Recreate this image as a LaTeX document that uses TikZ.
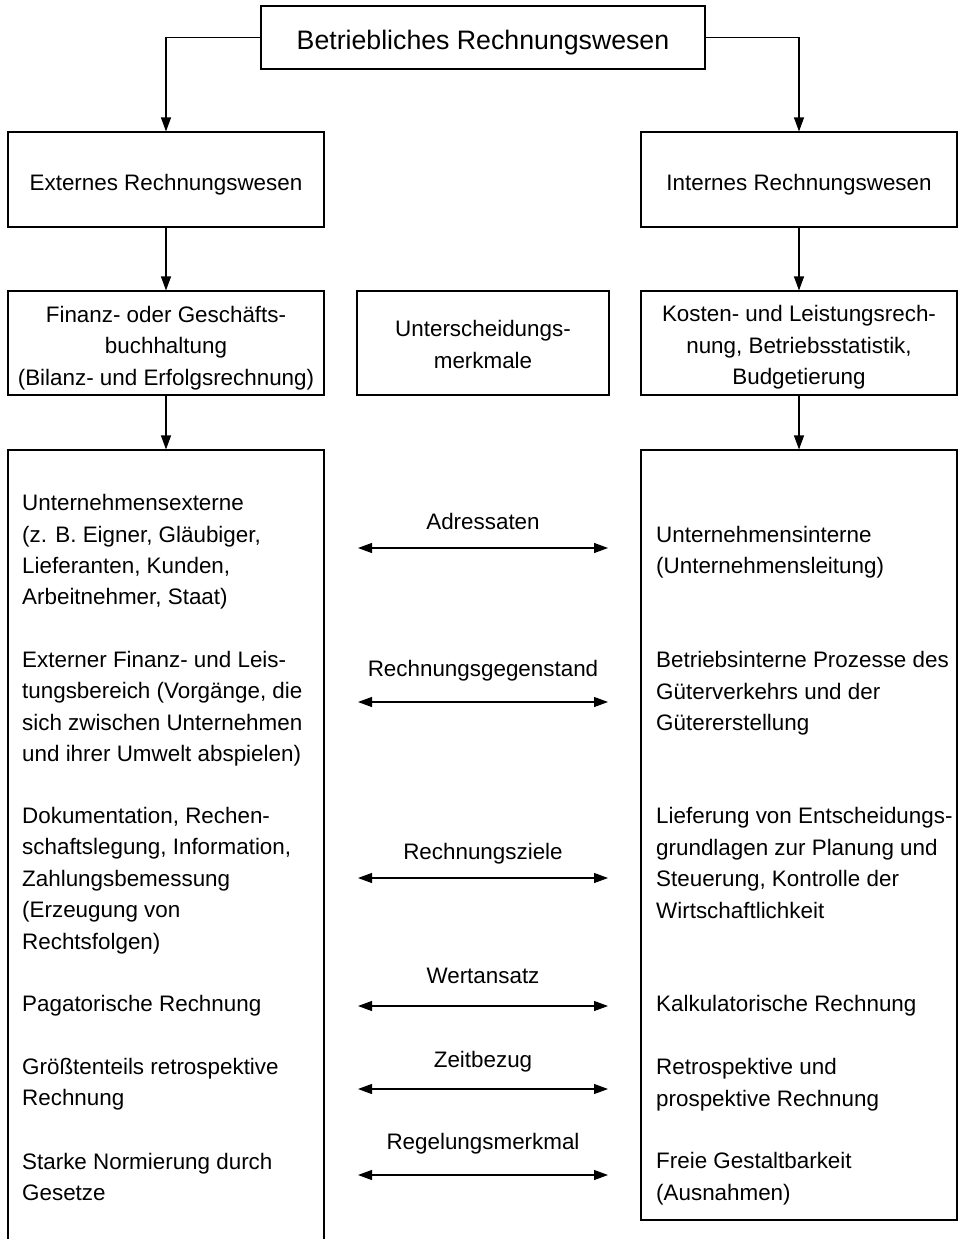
\documentclass[tikz,border=0pt]{standalone}
\usepackage{fontspec}
\setmainfont{Liberation Sans}
\usetikzlibrary{arrows.meta}
\begin{document}
\begin{tikzpicture}[x=1pt,y=-1pt,
  every node/.style={font=\fontsize{22.4}{31.4}\selectfont},
  box/.style={draw,line width=1.1pt,align=center,inner sep=0pt},
  txt/.style={align=left,anchor=west,inner sep=0pt},
  lbl/.style={inner sep=0pt,anchor=base},
  arr/.style={line width=1.1pt,-{Triangle[length=14pt,width=10pt]}},
  darr/.style={line width=1.1pt,{Triangle[length=14pt,width=10pt]}-{Triangle[length=14pt,width=10pt]}}]
\useasboundingbox (0,0) rectangle (959,1239);
\fill[white] (0,0) rectangle (959,1239);
\node[box,minimum width=444pt,minimum height=63pt,font=\fontsize{26.7}{31}\selectfont,text height=24pt,text depth=0pt] (top) at (483,37.5) {Betriebliches Rechnungswesen};
\node[box,minimum width=316pt,minimum height=95pt,text height=21.6pt,text depth=0pt] (ext) at (166,179.5) {Externes Rechnungswesen};
\node[box,minimum width=316pt,minimum height=95pt,text height=21.6pt,text depth=0pt] (int) at (799,179.5) {Internes Rechnungswesen};
\node[box,minimum width=316pt,minimum height=104pt,text height=84.4pt,text depth=0pt] (fin) at (166,343) {Finanz- oder Geschäfts-\\buchhaltung\\(Bilanz- und Erfolgsrechnung)};
\node[box,minimum width=252pt,minimum height=104pt,text height=50.7pt,text depth=0pt] (unt) at (483,343) {Unterscheidungs-\\merkmale};
\node[box,minimum width=316pt,minimum height=104pt,text height=83.4pt,text depth=0pt] (kos) at (799,343) {Kosten- und Leistungsrech-\\nung, Betriebsstatistik,\\Budgetierung};
\node[box,minimum width=316pt,minimum height=810pt] (lbox) at (166,855) {};
\node[box,minimum width=316pt,minimum height=770pt] (rbox) at (799,835) {};
\draw[arr] (top.west) -| (ext.north);
\draw[arr] (top.east) -| (int.north);
\draw[arr] (ext.south) -- (fin.north);
\draw[arr] (int.south) -- (kos.north);
\draw[arr] (fin.south) -- (lbox.north);
\draw[arr] (kos.south) -- (rbox.north);
% left texts
\node[txt] (l1) at (22,552) {Unternehmensexterne\\(z. B. Eigner, Gläubiger,\\Lieferanten, Kunden,\\Arbeitnehmer, Staat)};
\node[txt] (l2) at (22,708.5) {Externer Finanz- und Leis-\\tungsbereich (Vorgänge, die\\sich zwischen Unternehmen\\und ihrer Umwelt abspielen)};
\node[txt] (l3) at (22,880.5) {Dokumentation, Rechen-\\schaftslegung, Information,\\Zahlungsbemessung\\(Erzeugung von\\Rechtsfolgen)};
\node[txt] (l4) at (22,1005.5) {Pagatorische Rechnung};
\node[txt] (l5) at (22,1084) {Größtenteils retrospektive\\Rechnung};
\node[txt] (l6) at (22,1177) {Starke Normierung durch\\Gesetze};
% right texts
\node[txt] (r1) at (656,552.5) {Unternehmensinterne\\(Unternehmensleitung)};
\node[txt] (r2) at (656,693.5) {Betriebsinterne Prozesse des\\Güterverkehrs und der\\Gütererstellung};
\node[txt] (r3) at (656,863) {Lieferung von Entscheidungs-\\grundlagen zur Planung und\\Steuerung, Kontrolle der\\Wirtschaftlichkeit};
\node[txt] (r4) at (656,1006) {Kalkulatorische Rechnung};
\node[txt] (r5) at (656,1084.5) {Retrospektive und\\prospektive Rechnung};
\node[txt] (r6) at (656,1178.5) {Freie Gestaltbarkeit\\(Ausnahmen)};
% double arrows and labels
\foreach \n/\y/\ly/\t in {1/548/529/Adressaten,2/702/676/Rechnungsgegenstand,3/878/859/Rechnungsziele,4/1006/983/Wertansatz,5/1089/1067/Zeitbezug,6/1175/1149/Regelungsmerkmal}{
  \coordinate (al\n) at (358,\y);
  \coordinate (ar\n) at (608,\y);
  \draw[darr] (al\n) -- (ar\n);
  \node[lbl] (lab\n) at (483,\ly) {\t};
}
\end{tikzpicture}
\end{document}
